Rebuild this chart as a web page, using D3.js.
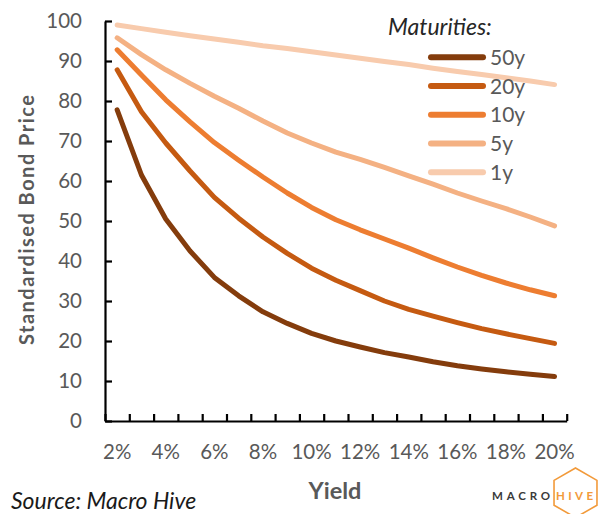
<!DOCTYPE html>
<html>
<head>
<meta charset="utf-8">
<script src="https://cdn.jsdelivr.net/npm/d3@7"></script>
<style>
  html, body { margin: 0; padding: 0; background: #ffffff; }
  svg { display: block; }
  text { font-family: Lato, "Open Sans", sans-serif; }
</style>
</head>
<body>
<svg id="chart" width="602" height="514"></svg>
<script>
// Yield categories (x axis) and the labels shown under the axis
const categories = ["2%","3%","4%","5%","6%","7%","8%","9%","10%","11%","12%","13%","14%","15%","16%","17%","18%","19%","20%"];
const tickLabels = ["2%","4%","6%","8%","10%","12%","14%","16%","18%","20%"];
const yTicks = [0,10,20,30,40,50,60,70,80,90,100];

// Standardised bond price by maturity
const maturities = ["50y","20y","10y","5y","1y"];
const price50y = [77.8,61.5,50.5,42.5,35.9,31.3,27.3,24.4,21.9,20.0,18.5,17.1,16.0,14.8,13.8,13.0,12.3,11.7,11.1];
const price20y = [87.8,77.3,69.5,62.5,55.9,50.7,46.0,41.9,38.2,35.2,32.6,30.0,27.9,26.2,24.6,23.1,21.8,20.6,19.4];
const price10y = [92.8,86.5,80.3,74.8,69.6,65.2,61.0,57.0,53.4,50.3,47.8,45.5,43.2,40.8,38.5,36.4,34.5,32.8,31.3];
const price5y  = [95.8,91.6,87.8,84.4,81.2,78.2,75.0,72.0,69.5,67.2,65.4,63.4,61.3,59.2,57.0,55.0,53.1,51.0,48.8];
const price1y  = [99.0,98.1,97.2,96.3,95.5,94.7,93.8,93.1,92.3,91.5,90.7,89.9,89.1,88.2,87.4,86.6,85.8,85.0,84.1];

const seriesValues = [price50y, price20y, price10y, price5y, price1y];
const seriesColors = ["#843C0C","#C55A11","#ED7D31","#F4B183","#F8CBAD"];

const svg = d3.select("#chart");
const plot = { left: 105, right: 566.7, top: 21, bottom: 421 };

const x = d3.scaleBand().domain(categories).range([plot.left, plot.right]).paddingInner(0).paddingOuter(0);
const y = d3.scaleLinear().domain([0, 100]).range([plot.bottom, plot.top]);
// index scale used for the tick marks that sit between categories
const xEdge = d3.scaleLinear().domain([0, categories.length]).range([plot.left, plot.right]);

const grey = "#595959";

// Series lines
const line = d3.line()
  .x((d, i) => x(categories[i]) + x.bandwidth() / 2)
  .y(d => y(d))
  .curve(d3.curveLinear);

svg.append("g").selectAll("path")
  .data(seriesValues)
  .join("path")
  .attr("d", d => line(d))
  .attr("fill", "none")
  .attr("stroke", (d, i) => seriesColors[i])
  .attr("stroke-width", 5)
  .attr("stroke-linecap", "round")
  .attr("stroke-linejoin", "round");

// Y axis
const yAxis = svg.append("g")
  .attr("transform", `translate(${plot.left},0)`)
  .call(d3.axisLeft(y).tickValues(yTicks).tickSizeInner(-7).tickSizeOuter(0).tickPadding(23));
yAxis.select(".domain").attr("stroke", "#000").attr("stroke-width", 2.2);
yAxis.selectAll(".tick line").attr("stroke", "#000").attr("stroke-width", 2.2);
yAxis.selectAll(".tick text").attr("fill", grey).attr("font-size", 20.5).attr("font-family", "Lato");

// X axis tick marks between categories
const xMarks = svg.append("g")
  .attr("transform", `translate(0,${plot.bottom})`)
  .call(d3.axisBottom(xEdge).tickValues(d3.range(0, categories.length + 1)).tickSizeInner(-7).tickSizeOuter(0).tickFormat(""));
xMarks.select(".domain").attr("stroke", "#000").attr("stroke-width", 2.2);
xMarks.selectAll(".tick line").attr("stroke", "#000").attr("stroke-width", 2.2);

// X axis labels on every other category
const xLabels = svg.append("g")
  .attr("transform", `translate(0,${plot.bottom})`)
  .call(d3.axisBottom(x).tickValues(tickLabels).tickSize(0).tickPadding(23));
xLabels.select(".domain").remove();
xLabels.selectAll(".tick text").attr("fill", grey).attr("font-size", 20.5).attr("font-family", "Lato");

// Axis titles
svg.append("text")
  .attr("transform", "translate(34,220) rotate(-90)")
  .attr("text-anchor", "middle")
  .attr("fill", grey)
  .attr("font-weight", "bold")
  .attr("font-size", 20)
  .attr("textLength", 250)
  .attr("lengthAdjust", "spacing")
  .text("Standardised Bond Price");

svg.append("text")
  .attr("x", 335).attr("y", 499)
  .attr("text-anchor", "middle")
  .attr("fill", grey)
  .attr("font-weight", "bold")
  .attr("font-size", 23.5)
  .text("Yield");

// Source note
svg.append("text")
  .attr("x", 11).attr("y", 509)
  .attr("fill", "#1a1a1a")
  .attr("font-style", "italic")
  .attr("font-size", 23)
  .text("Source: Macro Hive");

// Legend
const legend = svg.append("g");
legend.append("text")
  .attr("x", 388).attr("y", 35)
  .attr("fill", "#262626")
  .attr("font-style", "italic")
  .attr("font-size", 23)
  .text("Maturities:");

const legendRow = d3.scaleBand().domain(maturities).range([43, 186.5]);
const rows = legend.selectAll("g.row")
  .data(maturities)
  .join("g")
  .attr("class", "row")
  .attr("transform", d => `translate(0,${legendRow(d) + legendRow.bandwidth() / 2})`);
rows.append("line")
  .attr("x1", 431).attr("x2", 483)
  .attr("stroke", (d, i) => seriesColors[i])
  .attr("stroke-width", 6)
  .attr("stroke-linecap", "round");
rows.append("text")
  .attr("x", 490).attr("y", 0).attr("dy", "0.36em")
  .attr("fill", grey)
  .attr("font-size", 21)
  .text(d => d);

// Brand mark
const brand = svg.append("g");
const hexR = 24.8, hx = 575.5, hy = 492.8;
const hexPts = d3.range(6).map(k => {
  const a = Math.PI / 180 * (60 * k - 90);
  return [hx + hexR * Math.cos(a), hy + hexR * Math.sin(a)];
});
brand.append("path")
  .attr("d", d3.line()(hexPts) + "Z")
  .attr("fill", "none")
  .attr("stroke", "#F29A3A")
  .attr("stroke-width", 1.6);
brand.append("text")
  .attr("x", 492).attr("y", 500)
  .attr("font-size", 11.5)
  .attr("font-weight", "bold")
  .attr("fill", "#3a3a3a")
  .attr("textLength", 58)
  .attr("lengthAdjust", "spacing")
  .text("MACRO");
brand.append("text")
  .attr("x", 556).attr("y", 500)
  .attr("font-size", 11.5)
  .attr("font-weight", "bold")
  .attr("fill", "#F29A3A")
  .attr("textLength", 37)
  .attr("lengthAdjust", "spacing")
  .text("HIVE");
</script>
</body>
</html>
